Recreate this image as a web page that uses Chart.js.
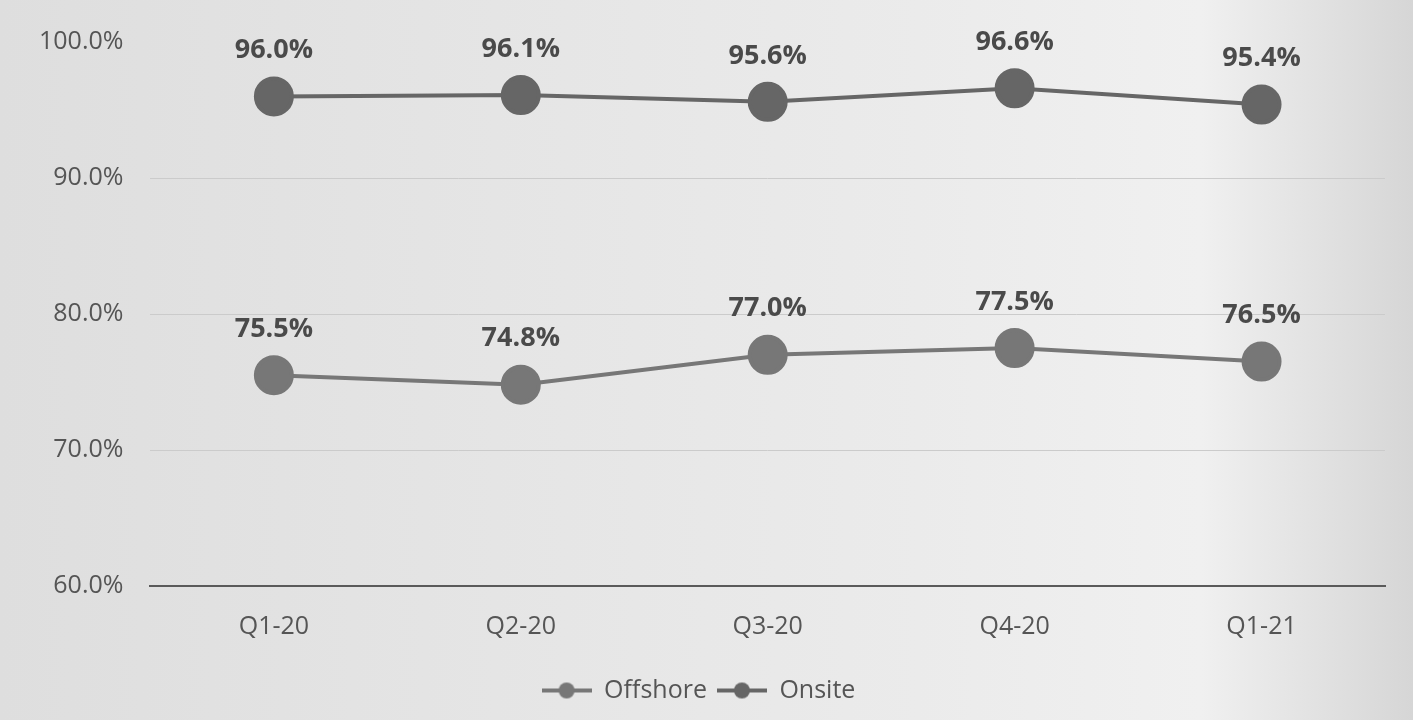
<!DOCTYPE html>
<html>
<head>
<meta charset="utf-8">
<script src="https://cdn.jsdelivr.net/npm/chart.js@4/dist/chart.umd.min.js"></script>
<style>
  html, body { margin: 0; padding: 0; }
  body {
    width: 1413px; height: 720px; overflow: hidden;
    background: linear-gradient(to right, #dedede 0%, #e5e5e5 35%, #ebebeb 65%, #f0f0f0 85%, #d6d6d6 100%);
  }
  #wrap { position: relative; width: 1413px; height: 720px; }
</style>
</head>
<body>
<div id="wrap"><canvas id="utilChart" width="1413" height="720"></canvas></div>
<script>
// quarters and utilisation (%) per delivery model
const quarters = ['Q1-20', 'Q2-20', 'Q3-20', 'Q4-20', 'Q1-21'];
const offshore = [75.5, 74.8, 77.0, 77.5, 76.5];
const onsite = [96.0, 96.1, 95.6, 96.6, 95.4];
const yTicks = [60, 70, 80, 90, 100];

const FONT = '"Open Sans", Lato, sans-serif';
const OFFSHORE_COLOR = '#777777';
const ONSITE_COLOR = '#666666';

// legend swatch: short line with a dot in the middle
const makeSwatch = (color) => {
    const c = document.createElement('canvas');
    c.width = 50; c.height = 18;
    const g = c.getContext('2d');
    g.strokeStyle = color;
    g.lineWidth = 4;
    g.beginPath(); g.moveTo(0, 9); g.lineTo(50, 9); g.stroke();
    g.fillStyle = color;
    g.beginPath(); g.arc(25, 9, 8, 0, Math.PI * 2); g.fill();
    return c;
};

// value labels above every point
const valueLabels = {
    id: 'valueLabels',
    afterDatasetsDraw(chart) {
        const ctx = chart.ctx;
        ctx.save();
        ctx.font = `bold 27px ${FONT}`;
        ctx.fillStyle = '#4a4a4a';
        ctx.textAlign = 'center';
        ctx.textBaseline = 'middle';
        chart.data.datasets.forEach((ds, i) => {
            chart.getDatasetMeta(i).data.forEach((pt, j) => {
                ctx.fillText(ds.data[j].toFixed(1) + '%', pt.x, pt.y - 46);
            });
        });
        ctx.restore();
    }
};

const ctx = document.getElementById('utilChart').getContext('2d');
new Chart(ctx, {
    type: 'line',
    data: {
        labels: quarters,
        datasets: [
            {
                label: 'Offshore',
                data: offshore,
                borderColor: OFFSHORE_COLOR,
                backgroundColor: OFFSHORE_COLOR,
                borderWidth: 4,
                pointRadius: 18,
                pointHoverRadius: 18,
                tension: 0
            },
            {
                label: 'Onsite',
                data: onsite,
                borderColor: ONSITE_COLOR,
                backgroundColor: ONSITE_COLOR,
                borderWidth: 4,
                pointRadius: 18,
                pointHoverRadius: 18,
                tension: 0
            }
        ]
    },
    options: {
        responsive: false,
        animation: false,
        layout: { padding: { left: 12, right: 28, top: 25, bottom: 7 } },
        plugins: {
            tooltip: { enabled: false },
            legend: {
                position: 'bottom',
                labels: {
                    font: { family: FONT, size: 25 },
                    color: '#555555',
                    usePointStyle: true,
                    pointStyleWidth: 50,
                    padding: 10,
                    generateLabels(chart) {
                        return chart.data.datasets.map((ds, i) => ({
                            text: ds.label,
                            pointStyle: makeSwatch(ds.borderColor),
                            fillStyle: ds.borderColor,
                            strokeStyle: ds.borderColor,
                            lineWidth: 0,
                            hidden: false,
                            datasetIndex: i,
                            fontColor: '#555555'
                        }));
                    }
                }
            }
        },
        scales: {
            x: {
                offset: true,
                grid: { display: false, drawTicks: false },
                border: { color: '#5a5a5a', width: 2 },
                ticks: { font: { family: FONT, size: 25 }, color: '#555555', padding: 26 }
            },
            y: {
                min: 60,
                max: 100,
                afterBuildTicks(axis) { axis.ticks = yTicks.map(v => ({ value: v })); },
                grid: {
                    color: c => (c.tick && c.tick.value === 100 ? 'rgba(0,0,0,0)' : '#cbcbcb'),
                    lineWidth: 1,
                    drawTicks: false
                },
                border: { display: false },
                ticks: {
                    font: { family: FONT, size: 25 },
                    color: '#555555',
                    padding: 27,
                    callback: v => v.toFixed(1) + '%'
                }
            }
        }
    },
    plugins: [valueLabels]
});
</script>
</body>
</html>
